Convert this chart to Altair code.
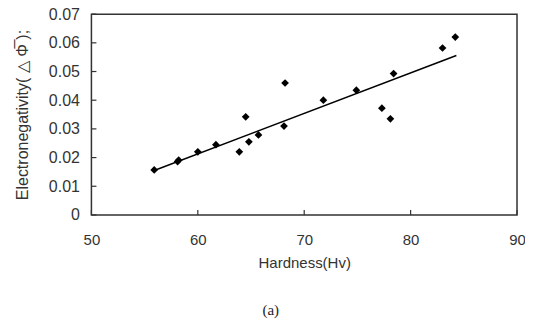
import altair as alt
import pandas as pd

hardness = [55.9, 58.1, 58.2, 60.0, 61.7, 63.9, 64.5, 64.8, 65.7, 68.2, 68.1, 71.8, 74.9, 77.3, 78.1, 78.4, 83.0, 84.2]
electroneg = [0.0157, 0.0186, 0.0191, 0.0220, 0.0245, 0.0220, 0.0342, 0.0255, 0.0279, 0.0460, 0.0310, 0.0400, 0.0435, 0.0372, 0.0335, 0.0493, 0.0582, 0.0620]
fit_x = [55.9, 84.3]
fit_y = [0.0155, 0.0556]
x_ticks = [50, 60, 70, 80, 90]
y_ticks = [0, 0.01, 0.02, 0.03, 0.04, 0.05, 0.06, 0.07]

pts = pd.DataFrame({"h": hardness, "e": electroneg})
fit = pd.DataFrame({"h": fit_x, "e": fit_y})
xt = pd.DataFrame({"v": x_ticks})
yt = pd.DataFrame({"v": y_ticks})

FONT = "Liberation Sans"
TXT = "#333333"

xs = alt.Scale(domain=[50, 90], nice=False, zero=False)
ys = alt.Scale(domain=[0, 0.07], nice=False)

xaxis = alt.Axis(values=x_ticks, format="d", grid=False, ticks=False, domain=False,
                 labelPadding=18, labelFontSize=15, labelColor=TXT, labelFont=FONT,
                 labelOverlap=False, labelFlush=False,
                 title="Hardness(Hv)", titleFontSize=15, titleFont=FONT, titleColor=TXT,
                 titleFontWeight="normal", titlePadding=8)
yaxis = alt.Axis(values=y_ticks, format="~g", grid=False, ticks=False, domain=False,
                 labelPadding=12, labelFontSize=16, labelColor=TXT, labelFont=FONT,
                 labelOverlap=False, labelFlush=False,
                 title="Electronegativity(  \u25b3 \u03a6\u0305 );", titleFontSize=16, titleFont=FONT,
                 titleColor=TXT, titleFontWeight="normal", titlePadding=18)

points = alt.Chart(pts).mark_point(shape="diamond", filled=True, color="black", size=60, opacity=1).encode(
    x=alt.X("h:Q", scale=xs, axis=xaxis),
    y=alt.Y("e:Q", scale=ys, axis=yaxis),
)

line = alt.Chart(fit).mark_line(color="black", strokeWidth=1.5).encode(
    x=alt.X("h:Q", scale=xs, axis=xaxis),
    y=alt.Y("e:Q", scale=ys, axis=yaxis),
)

xtick = alt.Chart(xt).mark_rule(color="#333333", strokeWidth=1.2).encode(
    x=alt.X("v:Q", scale=xs, axis=xaxis),
    y=alt.value(201),
    y2=alt.value(196),
)
ytick = alt.Chart(yt).mark_rule(color="#333333", strokeWidth=1.2).encode(
    y=alt.Y("v:Q", scale=ys, axis=yaxis),
    x=alt.value(0),
    x2=alt.value(5),
)

caption = alt.Chart(pd.DataFrame({"t": ["(a)"]})).mark_text(
    font="Liberation Serif", fontSize=15, color="#222222"
).encode(text="t:N", x=alt.value(179.5), y=alt.value(296))

chart = alt.layer(points, line, xtick, ytick, caption).properties(
    width=426, height=201,
    autosize=alt.AutoSizeParams(type="none"),
    padding={"left": 83.5, "top": 6, "right": 8, "bottom": 110},
).configure_view(stroke="#333333", strokeWidth=1.5)

chart.save("out.html", embed_options={"renderer": "svg", "actions": False})
